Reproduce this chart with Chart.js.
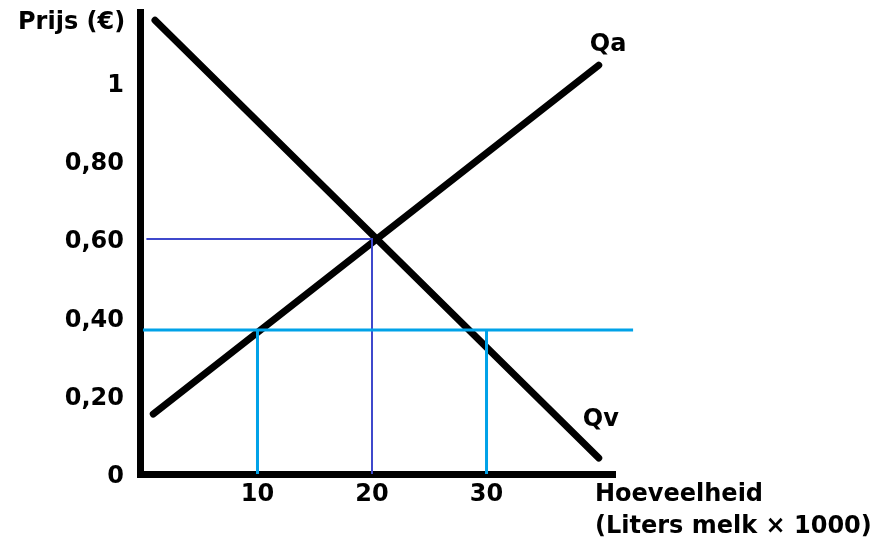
<!DOCTYPE html>
<html>
<head>
<meta charset="utf-8">
<script src="https://cdn.jsdelivr.net/npm/chart.js@4.4.1/dist/chart.umd.min.js"></script>
<style>
  html, body { margin: 0; padding: 0; background: #fff; }
  #wrap { width: 877px; height: 551px; }
</style>
</head>
<body>
<div id="wrap"><canvas id="myChart" width="877" height="551"></canvas></div>
<script>
// aanbod (Qa) en vraag (Qv), hoeveelheid x 1000 liter / prijs in euro
const aanbodX = [0.9, 39.8];
const aanbodY = [0.153, 1.044];
const vraagX = [1.05, 39.8];
const vraagY = [1.159, 0.041];

// evenwicht
const evenwichtX = [0.3, 20, 20];
const evenwichtY = [0.60, 0.60, 0];

// prijs 0,37 : hulplijnen
const prijslijnX = [0, 42.8];
const prijslijnY = [0.368, 0.368];
const lijn10X = [10, 10];
const lijn10Y = [0.368, 0];
const lijn30X = [30, 30];
const lijn30Y = [0.368, 0];

const yTicks = [0, 0.2, 0.4, 0.6, 0.8, 1];
const yLabels = ['0', '0,20', '0,40', '0,60', '0,80', '1'];
const xTicks = [10, 20, 30];
const xLabels = ['10', '20', '30'];

const FONT = 'bold 24px "DejaVu Sans"';

function punten(xs, ys) {
    return xs.map(function (x, i) { return { x: x, y: ys[i] }; });
}

function lijn(xs, ys, kleur, dikte, clip) {
    return {
        data: punten(xs, ys),
        showLine: true,
        borderColor: kleur,
        borderWidth: dikte,
        pointRadius: 0,
        borderCapStyle: dikte > 4 ? 'round' : 'butt',
        borderJoinStyle: 'miter',
        clip: clip,
        tension: 0
    };
}

const tekstPlugin = {
    id: 'teksten',
    afterDraw: function (chart) {
        const ctx = chart.ctx;
        const sx = chart.scales.x;
        const sy = chart.scales.y;
        ctx.save();
        ctx.font = FONT;
        ctx.fillStyle = '#000';
        ctx.textBaseline = 'middle';

        // y-as labels
        ctx.textAlign = 'right';
        yTicks.forEach(function (v, i) {
            ctx.fillText(yLabels[i], 124, sy.getPixelForValue(v) + 3);
        });
        // x-as labels
        ctx.textAlign = 'center';
        xTicks.forEach(function (v, i) {
            ctx.fillText(xLabels[i], sx.getPixelForValue(v), 495);
        });

        ctx.textAlign = 'left';
        ctx.fillText('Prijs (€)', 18, 23);
        ctx.fillText('Hoeveelheid', 595, 495);
        ctx.fillText('(Liters melk × 1000)', 595, 527);

        // namen bij de lijnen
        const qaX = sx.getPixelForValue(aanbodX[1]);
        const qaY = sy.getPixelForValue(aanbodY[1]);
        ctx.fillText('Qa', qaX - 9, qaY - 20);
        const qvX = sx.getPixelForValue(vraagX[1]);
        const qvY = sy.getPixelForValue(vraagY[1]);
        ctx.fillText('Qv', qvX - 16, qvY - 38);
        ctx.restore();
    }
};

new Chart(document.getElementById('myChart'), {
    type: 'scatter',
    data: {
        datasets: [
            lijn(prijslijnX, prijslijnY, '#00A2E8', 3, false),
            lijn(lijn10X, lijn10Y, '#00A2E8', 3, false),
            lijn(lijn30X, lijn30Y, '#00A2E8', 3, false),
            lijn(evenwichtX, evenwichtY, '#3F48CC', 2, false),
            lijn(aanbodX, aanbodY, '#000000', 7, false),
            lijn(vraagX, vraagY, '#000000', 7, false)
        ]
    },
    options: {
        responsive: false,
        animation: false,
        layout: { padding: { left: 140, right: 262, top: 12, bottom: 77 } },
        plugins: {
            legend: { display: false },
            tooltip: { enabled: false }
        },
        scales: {
            x: {
                type: 'linear',
                min: -0.26,
                max: 41.22,
                z: 1,
                grid: { display: false, drawTicks: false },
                border: { display: true, color: '#000', width: 7 },
                ticks: { display: false }
            },
            y: {
                type: 'linear',
                min: 0,
                max: 1.18,
                z: 1,
                grid: { display: false, drawTicks: false },
                border: { display: true, color: '#000', width: 7 },
                ticks: { display: false }
            }
        }
    },
    plugins: [tekstPlugin]
});
</script>
</body>
</html>
